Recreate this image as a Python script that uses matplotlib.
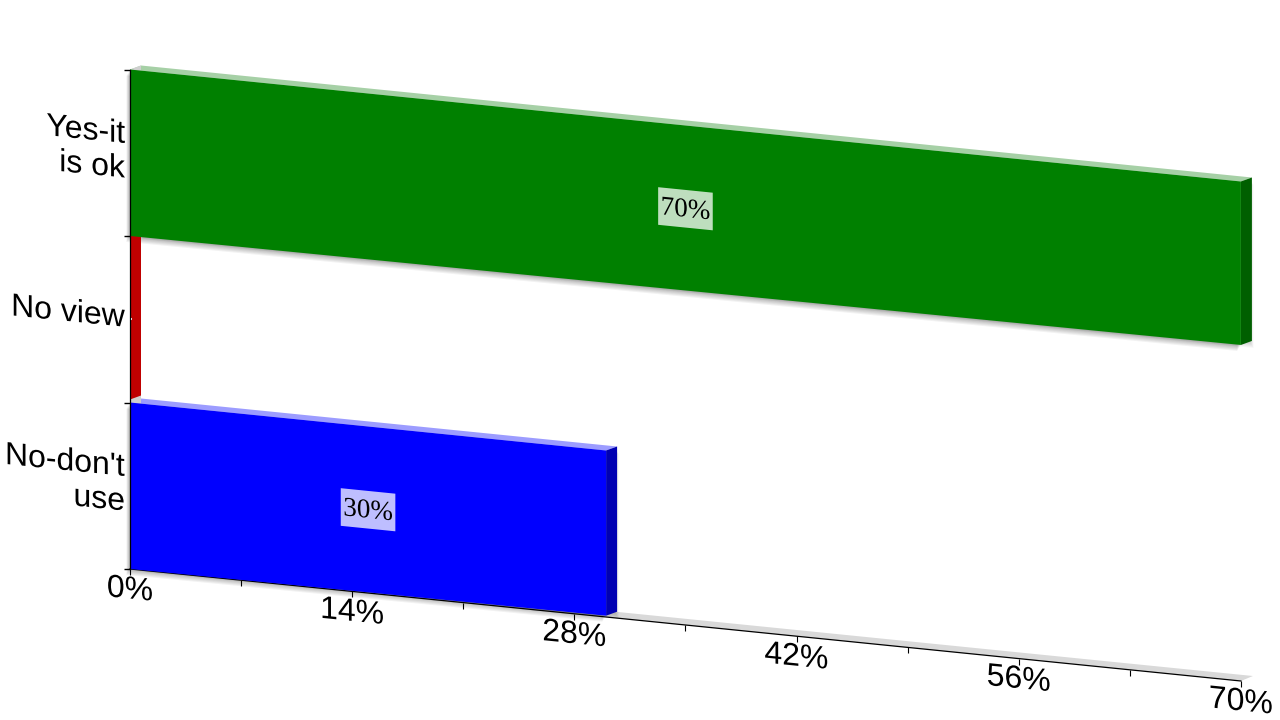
import matplotlib
matplotlib.use('Agg')
import matplotlib.pyplot as plt
from matplotlib.lines import TICKLEFT, TICKDOWN
from matplotlib.patches import Polygon
from matplotlib.patheffects import AbstractPathEffect
from matplotlib.transforms import Affine2D
import numpy as np

# Data, bottom category first
categories = ["No-don't\nuse", 'No view', 'Yes-it\nis ok']
shares = [30, 0, 70]
tick_values = [0, 14, 28, 42, 56, 70]
minor_values = [7, 21, 35, 49, 63]

# Colours: front, top, side
front_colors = ['#0000ff', '#c00000', '#008000']
top_colors = ['#9c9cff', '#c8c8c8', '#a6d0a6']
side_colors = ['#0000b2', '#c00000', '#005f00']

plt.rcParams['font.family'] = ['Liberation Sans', 'DejaVu Sans']

fig = plt.figure(figsize=(12.8, 7.2), dpi=100)
ax = fig.add_axes([0, 0, 1, 1])
ax.set_xlim(0, 1280)
ax.set_ylim(720, 0)
ax.axis('off')

# The chart is a flat plane seen at an angle: value, category -> pixel
px_per_value = 15.87
drop_per_value = 1.6
px_per_category = 166.5
plane = Affine2D(np.array([[px_per_value, 0, 130],
                           [drop_per_value, -px_per_category, 569],
                           [0, 0, 1]]))
slope = drop_per_value / px_per_value
depth = (11, -4)
floor_depth = (12, -5)
taper = 0.00026  # lower edge of a bar rises a little towards its end


class SlopeShear(AbstractPathEffect):
    """Shear a text so its baseline follows the tilted plane, letters stay upright"""

    def __init__(self, x0):
        super().__init__()
        self.x0 = x0

    def draw_path(self, renderer, gc, tpath, affine, rgbFace=None):
        shear = Affine2D(np.array([[1, 0, 0], [-slope, 1, slope * self.x0], [0, 0, 1]]))
        renderer.draw_path(gc, tpath, affine + shear, rgbFace)


def to_screen(offset=(0, 0)):
    return plane + Affine2D().translate(*offset) + ax.transData


def flat_poly(pts, color, zorder, offset=(0, 0), alpha=1.0):
    ax.add_patch(Polygon(pts, closed=True, facecolor=color, edgecolor='none', alpha=alpha,
                         zorder=zorder, transform=to_screen(offset)))


def depth_poly(front_pts, color, zorder, d=depth):
    # two points on the front plane, pushed back by the depth
    a, b = front_pts
    pa = plane.transform(a)
    pb = plane.transform(b)
    pts = [pa, pb, pb + d, pa + d]
    ax.add_patch(Polygon(pts, closed=True, facecolor=color, edgecolor='none', zorder=zorder,
                         transform=ax.transData))


def plane_text(v, p, label, offset=(0, 0), **kw):
    t = ax.text(v, p, label, transform=to_screen(offset), **kw)
    x0 = to_screen(offset).transform((v, p))[0]
    t.set_path_effects([SlopeShear(x0)])
    return t


n = len(categories)
top_value = tick_values[-1]

# back wall edge and floor
depth_poly([(0, 0), (0, n)], '#cfcfcf', 4.5)
depth_poly([(0, 0), (top_value, 0)], '#d9d9d9', 1, d=floor_depth)

# soft shadow
for i, (share, pos) in enumerate(zip(shares, range(n))):
    if share == 0:
        continue
    box = [(0, pos), (share, pos + taper * share), (share, pos + 1), (0, pos + 1)]
    for k in range(1, 7):
        flat_poly(box, 'black', 2, offset=(-0.6 * k, k), alpha=0.05)
        flat_poly(box, 'black', 2, offset=(0.6 * k + 9, k - 3), alpha=0.03)

# bars
for i, (share, pos) in enumerate(zip(shares, range(n))):
    if share > 0:
        low_end = pos + taper * share
        flat_poly([(0, pos), (share, low_end), (share, pos + 1), (0, pos + 1)], front_colors[i], 5)
        depth_poly([(0, pos + 1), (share, pos + 1)], top_colors[i], 4)
        depth_poly([(share, low_end), (share, pos + 1)], side_colors[i], 4)
        # value label with its pale box
        half_w, half_h = 1.72, 0.113
        cy = pos + 0.5
        flat_poly([(share / 2 - half_w, cy - half_h), (share / 2 + half_w, cy - half_h),
                   (share / 2 + half_w, cy + half_h), (share / 2 - half_w, cy + half_h)],
                  'white', 6, alpha=0.75)
        plane_text(share / 2, cy, f'{share}%', offset=(0, 1.5), ha='center', va='center',
                   fontsize=19.5, family=['Liberation Serif'], color='black', zorder=7)
    else:
        # empty bar only shows its side face
        depth_poly([(share, pos + 0.018), (share, pos + 1)], side_colors[i], 4.6)
        ax.plot([share], [pos + 0.5], transform=to_screen((2, 0)), marker=TICKLEFT, ms=3,
                mew=1.5, color='white', ls='none', zorder=8)

# axes
ax.plot([0, 0], [0, n], color='black', lw=0.9, transform=to_screen(), zorder=8)
ax.plot([0, top_value], [0, 0], color='black', lw=0.9, transform=to_screen(), zorder=3)
ax.plot([0] * (n + 1), list(range(n + 1)), ls='none', marker=TICKLEFT, ms=4, mew=1, color='black',
        transform=to_screen(), zorder=8)
ax.plot(tick_values + minor_values, [0] * (len(tick_values) + len(minor_values)), ls='none',
        marker=TICKDOWN, ms=4, mew=0.8, color='black', transform=to_screen(), zorder=3)

# tick labels
for v in tick_values:
    plane_text(v, 0, f'{v}%', offset=(0, 21.5), ha='center', va='center', fontsize=23,
               color='black', zorder=9)

for pos, label in enumerate(categories):
    plane_text(0, pos + 0.5, label, offset=(-5, -0.5), ha='right', va='center',
               multialignment='right', fontsize=23, linespacing=1.2, color='black', zorder=9)

fig.savefig('out.png', dpi=100)
